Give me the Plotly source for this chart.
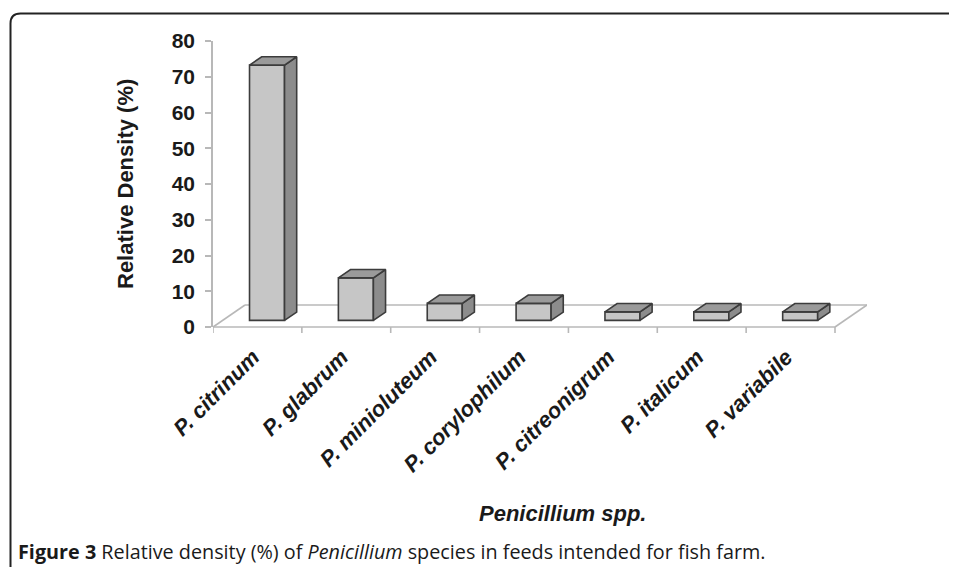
import plotly.graph_objects as go

# ---- data ----
species = ["P. citrinum", "P. glabrum", "P. minioluteum", "P. corylophilum",
           "P. citreonigrum", "P. italicum", "P. variabile"]
density = [71.4, 11.9, 4.76, 4.76, 2.38, 2.38, 2.38]
y_ticks = [0, 10, 20, 30, 40, 50, 60, 70, 80]

# ---- geometry (page pixels; the page body has an 8px margin) ----
OFF = 8
PW, PH = 957, 567
W, H = PW - OFF, PH - OFF
plot_left, plot_right, plot_top, plot_bottom = 213, 867, 41, 327
L = plot_left - OFF
T = plot_top - OFF
R = W - (plot_right - OFF)
B = H - (plot_bottom - OFF)
plot_w = plot_right - plot_left
plot_h = plot_bottom - plot_top
n = len(species)
x_lo, x_hi_front = -0.5, n - 0.5
cat_px = 622 / n
floor_dx = 32 / cat_px
x_hi = x_hi_front + floor_dx
y_lo, y_hi = 0, 80
px_per_y = plot_h / (y_hi - y_lo)
floor_dy = 22 / px_per_y

f0, f1 = 0.30, 0.68
bar_w = 0.394

def py(v):
    return (v - y_lo) / (y_hi - y_lo)

def ppx(p):  # page x -> paper x
    return (p - plot_left) / plot_w

def ppy(p):  # page y -> paper y
    return (plot_bottom - p) / plot_h

fig = go.Figure()

xs = [i + f0 * floor_dx for i in range(n)]
base = f0 * floor_dy
edge = dict(color="#3c3c3c", width=1.6)
fig.add_trace(go.Bar(
    x=xs, y=density, base=[base] * n, width=bar_w,
    marker=dict(color="#c6c6c6", line=edge),
    hoverinfo="skip", showlegend=False))

ddx = (f1 - f0) * floor_dx
ddy = (f1 - f0) * floor_dy
side_x, side_y, top_x, top_y = [], [], [], []
for xc, v in zip(xs, density):
    xl, xr = xc - bar_w / 2, xc + bar_w / 2
    b0, t0 = base, base + v
    side_x += [xr, xr + ddx, xr + ddx, xr, xr, None]
    side_y += [b0, b0 + ddy, t0 + ddy, t0, b0, None]
    top_x += [xl, xr, xr + ddx, xl + ddx, xl, None]
    top_y += [t0, t0, t0 + ddy, t0 + ddy, t0, None]
fig.add_trace(go.Scatter(x=side_x, y=side_y, mode="lines", fill="toself",
                         fillcolor="#8c8c8c", line=edge,
                         hoverinfo="skip", showlegend=False))
fig.add_trace(go.Scatter(x=top_x, y=top_y, mode="lines", fill="toself",
                         fillcolor="#9a9a9a", line=edge,
                         hoverinfo="skip", showlegend=False))

gray = "#b8b8b8"
shapes = []
def seg(x0, y0, x1, y1):
    shapes.append(dict(type="line", xref="x", yref="paper", layer="below",
                       x0=x0, y0=py(y0), x1=x1, y1=py(y1),
                       line=dict(color=gray, width=1.6)))
seg(x_lo, 0, x_hi_front, 0)
seg(x_lo + floor_dx, floor_dy, x_hi, floor_dy)
seg(x_lo, 0, x_lo + floor_dx, floor_dy)
seg(x_hi_front, 0, x_hi, floor_dy)
for k in range(n + 1):
    xb = x_lo + k
    shapes.append(dict(type="line", xref="x", yref="paper", layer="below",
                       x0=xb, y0=0, x1=xb, y1=-6 / plot_h,
                       line=dict(color=gray, width=1.6)))

fx, fy, rr = 10.5, 13.5, 10
path = (f"M {ppx(fx)},{ppy(PH + 5)} L {ppx(fx)},{ppy(fy + rr)} "
        f"Q {ppx(fx)},{ppy(fy)} {ppx(fx + rr)},{ppy(fy)} L {ppx(PW + 5)},{ppy(fy)}")
shapes.append(dict(type="path", xref="paper", yref="paper", path=path,
                   line=dict(color="#222222", width=2)))

annotations = [
    dict(text="<b>Relative Density (%)</b>", xref="paper", yref="paper",
         x=ppx(125), y=ppy(184), xanchor="center", yanchor="middle",
         showarrow=False, textangle=-90,
         font=dict(family="Liberation Sans, Arial", size=22, color="#1a1a1a")),
    dict(text="<b><i>Penicillium spp.</i></b>", xref="paper", yref="paper",
         x=ppx(562), y=ppy(513), xanchor="center", yanchor="middle",
         showarrow=False,
         font=dict(family="Liberation Sans, Arial", size=22, color="#1a1a1a")),
    dict(text="<b>Figure 3</b> Relative density (%) of <i>Penicillium</i> species in feeds intended for fish farm.",
         xref="paper", yref="paper", x=ppx(16), y=ppy(551), xanchor="left",
         yanchor="middle", showarrow=False,
         font=dict(family="Open Sans", size=19.8, color="#1a1a1a")),
]

fig.update_layout(
    width=W, height=H,
    margin=dict(l=L, r=R, t=T, b=B, pad=0),
    paper_bgcolor="white", plot_bgcolor="white",
    shapes=shapes, annotations=annotations,
    xaxis=dict(range=[x_lo, x_hi], tickvals=[i - 0.05 for i in range(n)],
               ticktext=[f"<b><i>{s}</i></b>" for s in species], tickangle=-45,
               showline=False, showgrid=False, zeroline=False, ticks="",
               ticklabelstandoff=12,
               tickfont=dict(family="Liberation Sans, Arial", size=22, color="#1a1a1a")),
    yaxis=dict(range=[y_lo, y_hi], tickvals=y_ticks,
               ticktext=[f"<b>{v}</b>" for v in y_ticks],
               showgrid=False, zeroline=False,
               showline=True, linecolor=gray, linewidth=1.6, ticks="outside",
               ticklen=6, tickcolor=gray, tickwidth=1.6, ticklabelstandoff=6,
               tickfont=dict(family="Liberation Sans, Arial", size=21, color="#1a1a1a")),
    font=dict(family="Liberation Sans, Arial"),
)

fig.write_html("out.html")
